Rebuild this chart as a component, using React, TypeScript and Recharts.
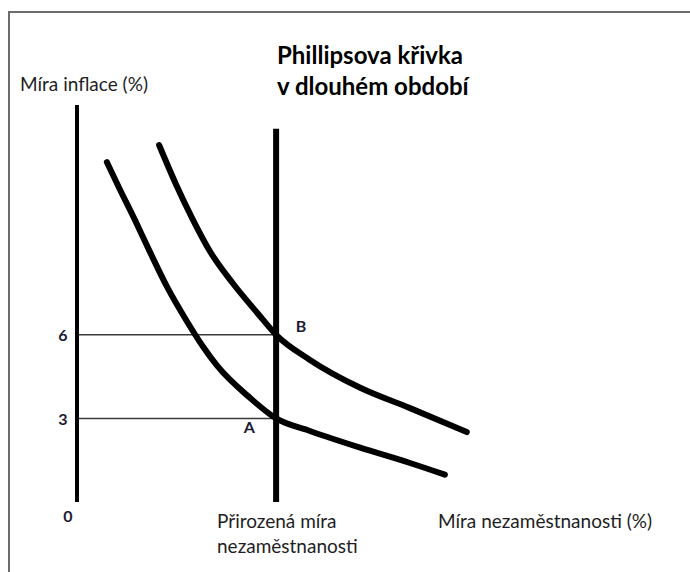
import React from "react";
import { LineChart, Line, XAxis, YAxis, ReferenceLine, ReferenceDot } from "recharts";

// short-run curves: unemployment (x) vs inflation (y)
const lowerUnemp = [0.6, 0.84, 1.17, 1.47, 1.81, 2.21, 2.53, 2.81, 3.48, 4, 4.68, 5.69, 6.69, 7.39];
const lowerInfl = [12.2, 11.3, 10.1, 8.96, 7.72, 6.48, 5.58, 4.9, 3.73, 3, 2.55, 1.95, 1.4, 0.98];
const upperUnemp = [1.65, 1.99, 2.31, 2.67, 3.13, 3.64, 4, 4.68, 5.69, 6.69, 7.83];
const upperInfl = [12.81, 11.4, 10.2, 9.0, 7.85, 6.75, 6, 5.1, 4.1, 3.37, 2.51];

const naturalRate = 4;
const longRunTop = 13.4;
const inflationTicks = [0, 3, 6];
const pointA = { x: 3.46, y: 2.69, label: "A" };
const pointB = { x: 4.5, y: 6.32, label: "B" };

const lowerCurve = lowerUnemp.map((x, i) => ({ x, y: lowerInfl[i] }));
const upperCurve = upperUnemp.map((x, i) => ({ x, y: upperInfl[i] }));

const FONT = "Lato, 'Open Sans', sans-serif";
const TEXT = "#1e1e24";

const YTick = (props: any) => {
  const { x, y, payload } = props;
  const isZero = payload.value === 0;
  return (
    <text
      x={isZero ? x - 1 : x - 6}
      y={isZero ? y + 13 : y}
      textAnchor="middle"
      dominantBaseline="central"
      fontFamily={FONT}
      fontWeight={700}
      fontSize={16}
      fill="#1b1b33"
    >
      {payload.value}
    </text>
  );
};

const pointLabel = (text: string) => ({
  value: text,
  position: "center" as const,
  fill: "#1b1b33",
  fontFamily: FONT,
  fontWeight: 700,
  fontSize: 16,
});

export default function App() {
  return (
    <div style={{ position: "absolute", left: 0, top: 0, width: 690, height: 572, background: "#fff", fontFamily: FONT }}>
      <div style={{ position: "absolute", left: 8, top: 11, width: 682, height: 561, borderTop: "2px solid #6b6b6b", borderLeft: "2px solid #6b6b6b" }} />
      <div style={{ position: "absolute", left: 277, top: 39, fontSize: 24, fontWeight: 700, lineHeight: "31px", color: "#000", whiteSpace: "nowrap" }}>
        Phillipsova křivka
        <br />v dlouhém období
      </div>
      <div style={{ position: "absolute", left: 20, top: 72, fontSize: 19, lineHeight: "23px", color: TEXT, whiteSpace: "nowrap" }}>Míra inflace (%)</div>
      <div style={{ position: "absolute", left: 217, top: 508, fontSize: 19, lineHeight: "25px", color: TEXT, whiteSpace: "nowrap" }}>
        Přirozená míra
        <br />nezaměstnanosti
      </div>
      <div style={{ position: "absolute", left: 438, top: 508, fontSize: 19, lineHeight: "25px", color: TEXT, whiteSpace: "nowrap" }}>Míra nezaměstnanosti (%)</div>
      <div style={{ position: "absolute", left: 0, top: 0 }}>
        <LineChart width={690} height={572} margin={{ top: 105, right: 165, bottom: 70, left: 37 }}>
          <XAxis
            type="number"
            dataKey="x"
            domain={[0, 9]}
            allowDuplicatedCategory={false}
            tick={false}
            tickLine={false}
            height={0}
            axisLine={{ stroke: "#000", strokeWidth: 4 }}
          />
          <YAxis
            type="number"
            dataKey="y"
            domain={[0, 14.25]}
            ticks={inflationTicks}
            interval={0}
            width={40}
            tickLine={false}
            tick={<YTick />}
            axisLine={{ stroke: "#000", strokeWidth: 4 }}
          />
          <ReferenceLine segment={[{ x: 0, y: 6 }, { x: naturalRate, y: 6 }]} stroke="#3a3a3a" strokeWidth={1.5} />
          <ReferenceLine segment={[{ x: 0, y: 3 }, { x: naturalRate, y: 3 }]} stroke="#3a3a3a" strokeWidth={1.5} />
          <ReferenceLine segment={[{ x: naturalRate, y: 0 }, { x: naturalRate, y: longRunTop }]} stroke="#000" strokeWidth={6} />
          <Line data={lowerCurve} dataKey="y" type="monotone" stroke="#000" strokeWidth={6} strokeLinecap="round" dot={false} activeDot={false} isAnimationActive={false} />
          <Line data={upperCurve} dataKey="y" type="monotone" stroke="#000" strokeWidth={6} strokeLinecap="round" dot={false} activeDot={false} isAnimationActive={false} />
          <ReferenceDot x={pointA.x} y={pointA.y} r={0} stroke="none" fill="none" label={pointLabel(pointA.label)} />
          <ReferenceDot x={pointB.x} y={pointB.y} r={0} stroke="none" fill="none" label={pointLabel(pointB.label)} />
        </LineChart>
      </div>
    </div>
  );
}
